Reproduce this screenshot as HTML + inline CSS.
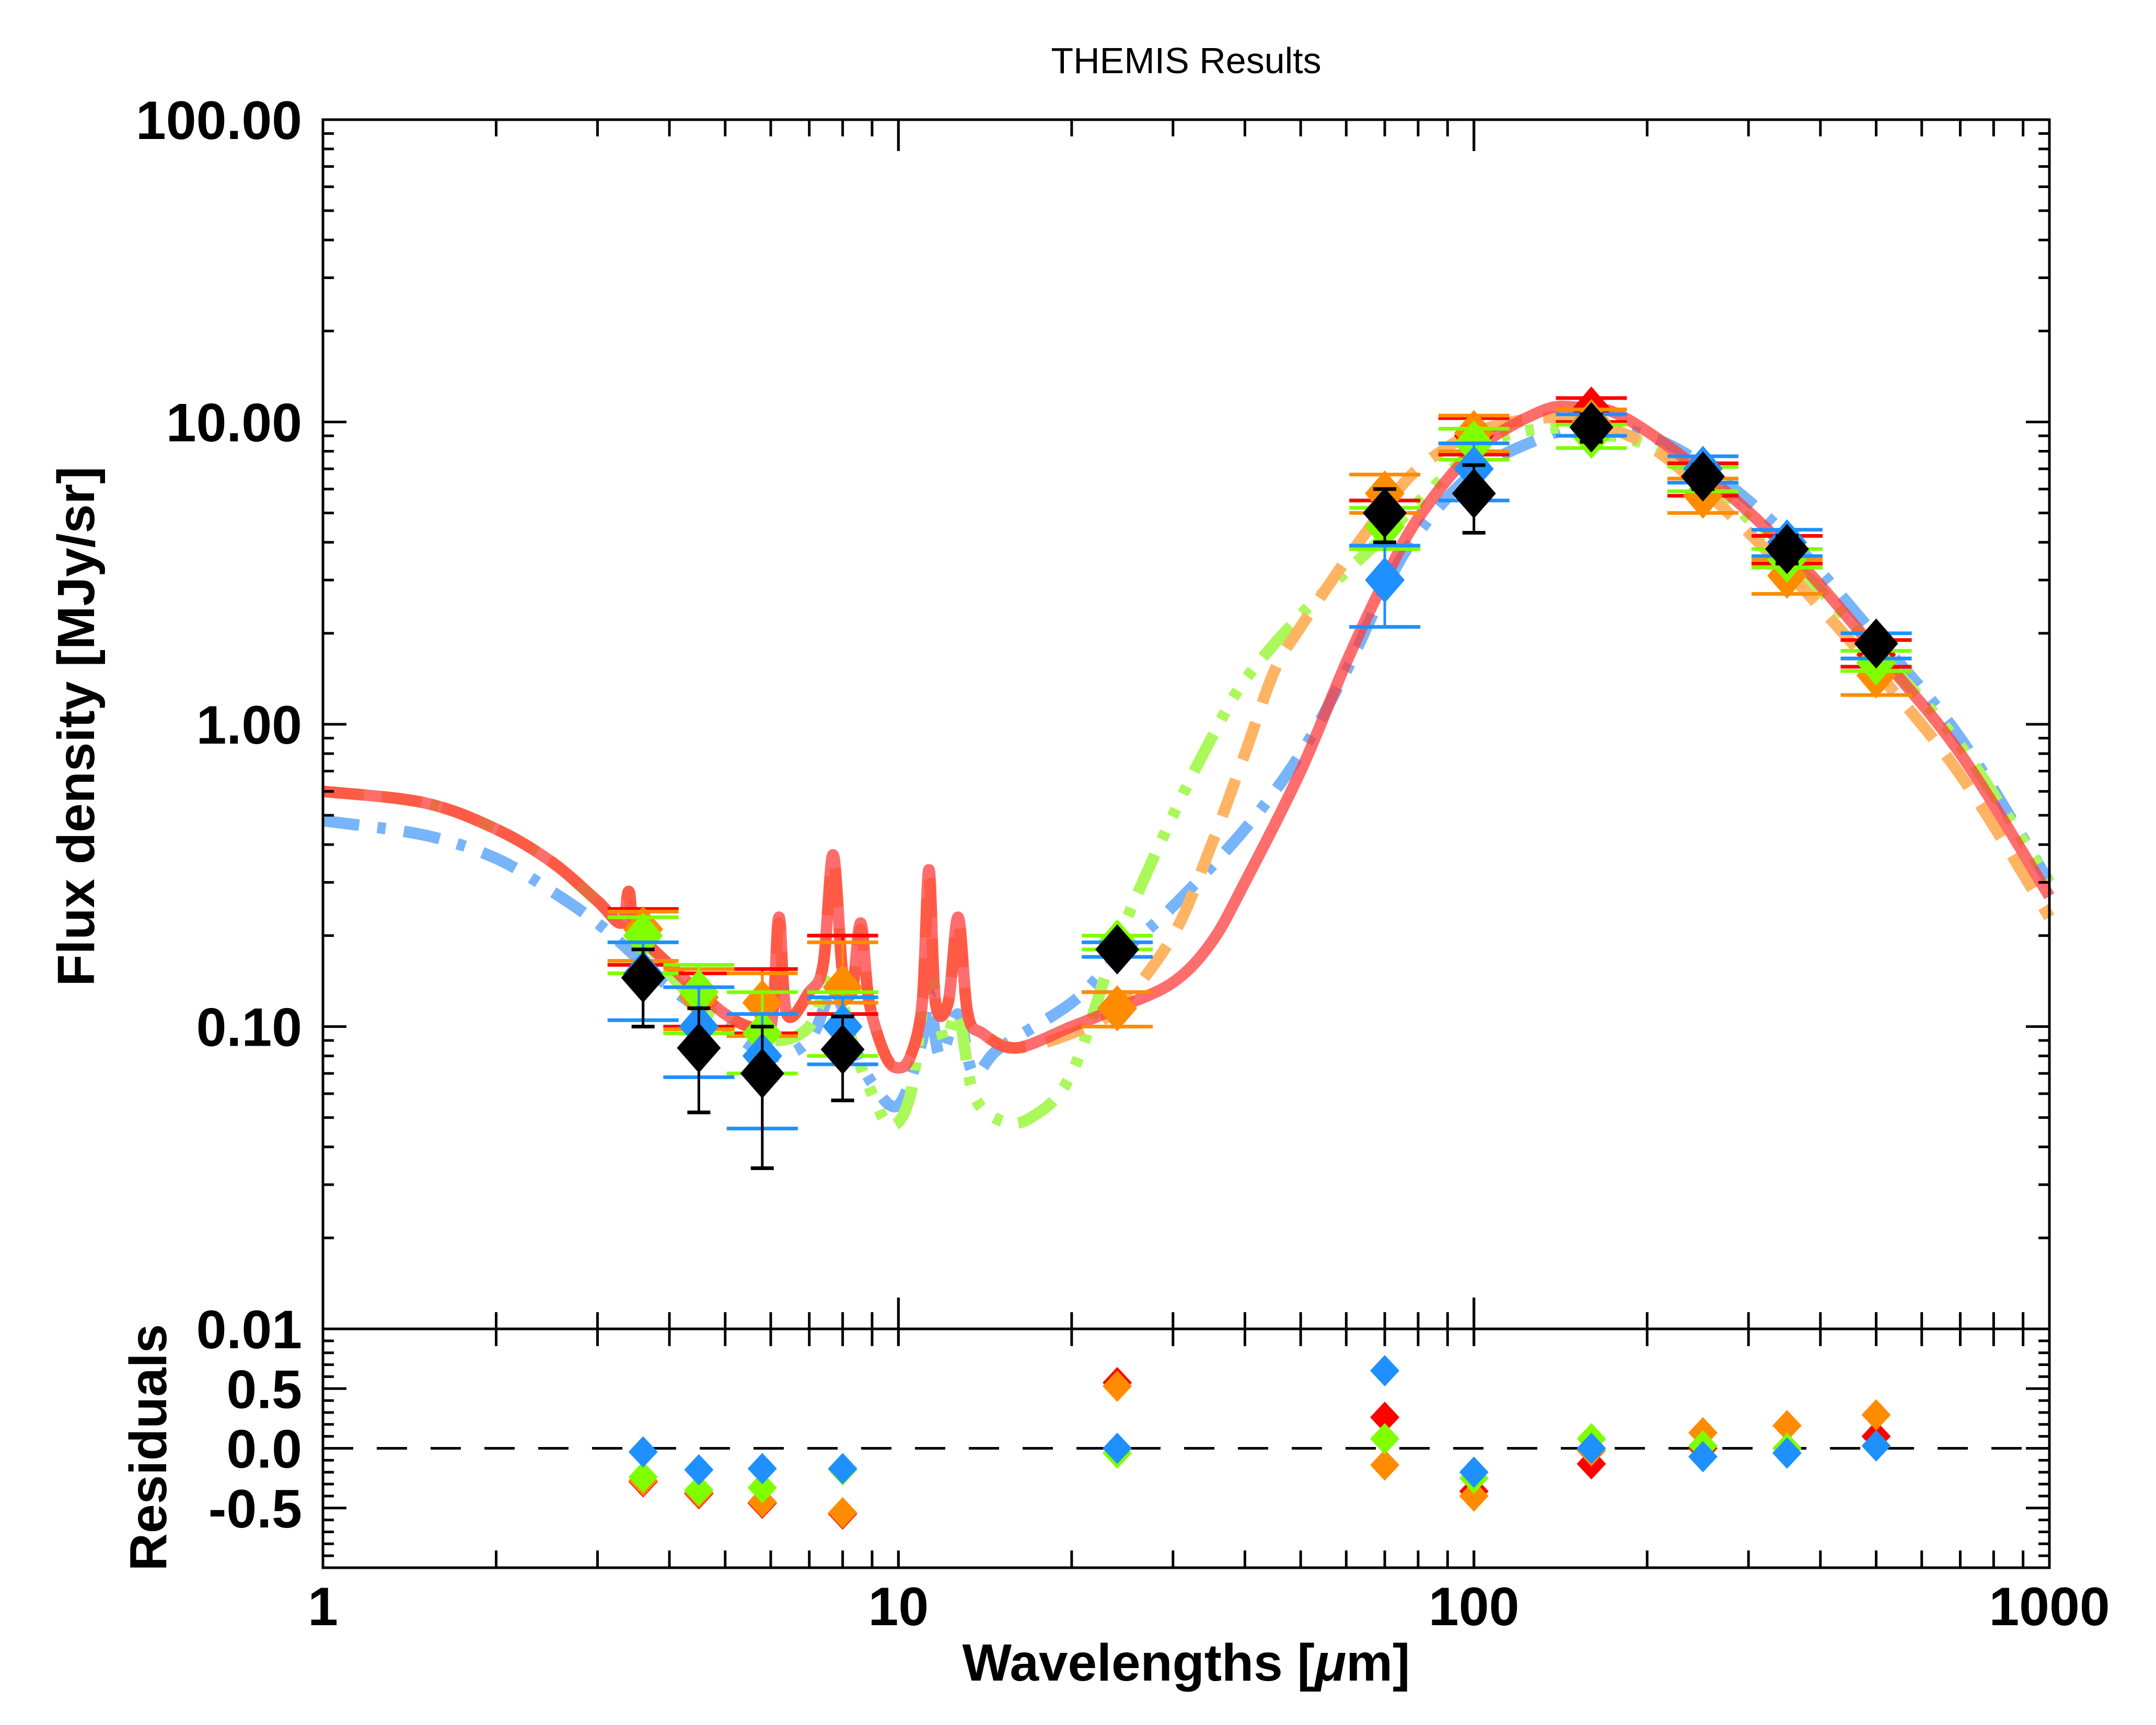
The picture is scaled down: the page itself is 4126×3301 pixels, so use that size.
<!DOCTYPE html>
<html><head><meta charset="utf-8"><style>
html,body{margin:0;padding:0;background:#fff}
svg{display:block}
text{font-family:"Liberation Sans",sans-serif}
</style></head><body>
<svg id="chart" width="4126" height="3301" viewBox="0 0 4126 3301" xmlns="http://www.w3.org/2000/svg">
<rect x="0" y="0" width="4126" height="3301" fill="#fff"/>
<text x="2270" y="140" font-size="70" text-anchor="middle">THEMIS Results</text>
<text transform="translate(180,1390) rotate(-90)" font-size="100" font-weight="bold" text-anchor="middle">Flux density [MJy/sr]</text>
<text transform="translate(318,2770) rotate(-90)" font-size="100" font-weight="bold" text-anchor="middle">Residuals</text>
<text x="2270" y="3216" font-size="100" font-weight="bold" text-anchor="middle">Wavelengths [<tspan font-style="italic">μ</tspan>m]</text>
<g id="curves"></g><g id="marks"></g><g id="axes"></g>
</svg>
<script>
const wavelengths=[3.6,4.5,5.8,8.0,24,70,100,160,250,350,500];
const redVals=[0.21,0.125,0.12,0.135,0.115,4.5,9.0,11.0,6.5,3.8,1.7];
const redLo=[0.16,0.10,0.095,0.11,0.10,3.8,7.8,10.0,5.7,3.4,1.55];
const redHi=[0.245,0.15,0.155,0.20,0.13,5.5,10.3,12.0,7.3,4.2,1.9];
const orangeVals=[0.21,0.125,0.12,0.135,0.115,5.8,9.2,10.0,5.7,3.1,1.45];
const orangeLo=[0.165,0.098,0.093,0.12,0.10,5.0,8.0,9.0,5.0,2.7,1.25];
const orangeHi=[0.24,0.155,0.15,0.19,0.13,6.7,10.5,11.0,6.5,3.5,1.65];
const greenVals=[0.2,0.13,0.095,0.10,0.19,4.5,8.5,9.0,6.5,3.5,1.6];
const greenLo=[0.15,0.095,0.07,0.08,0.18,3.8,7.5,8.2,5.9,3.3,1.5];
const greenHi=[0.23,0.16,0.13,0.13,0.20,5.2,9.5,9.8,7.1,3.8,1.75];
const blueVals=[0.15,0.10,0.08,0.10,0.18,3.0,7.0,9.8,7.0,4.0,1.85];
const blueLo=[0.105,0.068,0.046,0.075,0.17,2.1,5.5,9.0,6.3,3.6,1.65];
const blueHi=[0.19,0.135,0.11,0.125,0.19,3.9,8.5,10.6,7.7,4.4,2.0];
const obsVals=[0.145,0.085,0.07,0.084,0.18,5.0,5.8,9.6,6.6,3.8,1.85];
const obsLo=[0.10,0.052,0.034,0.057,0.17,4.0,4.3,8.6,6.0,3.4,1.7];
const obsHi=[0.18,0.115,0.10,0.108,0.19,6.0,7.2,10.6,7.2,4.2,2.0];
const redRes=[-0.28,-0.38,-0.46,-0.55,0.55,0.26,-0.36,-0.13,0.0,0.0,0.10];
const orangeRes=[-0.27,-0.37,-0.45,-0.54,0.52,-0.14,-0.40,-0.02,0.13,0.19,0.28];
const greenRes=[-0.24,-0.35,-0.33,-0.18,-0.04,0.08,-0.25,0.08,0.02,0.0,0.02];
const blueRes=[-0.03,-0.18,-0.17,-0.17,0.0,0.65,-0.20,0.0,-0.07,-0.04,0.02];
const redCurveX=[1,1.5,2,2.5,3,3.3,3.4,3.5,4,4.5,5,5.5,6.0,6.2,6.4,7.0,7.4,7.7,8.0,8.3,8.6,8.9,9.5,10,10.5,11.0,11.3,11.6,12.2,12.7,13.2,14,16,20,24,30,35,40,50,60,70,80,100,130,150,180,250,350,500,700,1000];
const redCurveY=[0.60,0.55,0.45,0.35,0.26,0.22,0.28,0.21,0.16,0.13,0.11,0.10,0.10,0.23,0.11,0.13,0.16,0.37,0.15,0.13,0.22,0.12,0.08,0.073,0.08,0.12,0.33,0.12,0.12,0.23,0.11,0.095,0.085,0.10,0.115,0.14,0.19,0.30,0.7,1.6,3.0,4.8,8.0,10.8,11.2,10.5,6.8,3.8,1.75,0.8,0.27];
const orangeCurveX=[1,1.5,2,2.5,3,3.3,3.4,3.5,4,4.5,5,5.5,6.0,6.2,6.4,7.0,7.4,7.7,8.0,8.3,8.6,8.9,9.5,10,10.5,11.0,11.3,11.6,12.2,12.7,13.2,14,16,20,24,30,35,40,45,50,60,70,80,100,130,160,200,250,350,500,700,1000];
const orangeCurveY=[0.60,0.55,0.45,0.35,0.26,0.22,0.28,0.21,0.16,0.13,0.11,0.10,0.10,0.22,0.11,0.13,0.16,0.35,0.15,0.13,0.21,0.12,0.08,0.075,0.08,0.12,0.31,0.12,0.12,0.22,0.11,0.095,0.085,0.095,0.115,0.20,0.40,0.8,1.5,2.1,3.5,5.2,7.0,9.2,10.3,9.9,8.4,6.0,3.2,1.5,0.68,0.23];
const greenCurveX=[1,1.5,2,2.5,3,3.5,4,4.5,5,6,7,7.7,8.3,9,9.7,10.5,11.3,12,12.7,13.5,15,17,20,24,30,35,40,50,60,70,100,130,160,200,250,350,500,700,1000];
const greenCurveY=[0.60,0.55,0.45,0.35,0.26,0.21,0.15,0.12,0.105,0.09,0.10,0.15,0.09,0.06,0.047,0.06,0.15,0.09,0.11,0.06,0.049,0.05,0.07,0.19,0.5,0.9,1.4,2.3,3.2,4.2,8.0,9.5,9.2,8.4,6.5,3.6,1.75,0.85,0.3];
const blueCurveX=[1,1.5,2,2.5,3,3.5,4,5,6,7,7.7,8.3,9,10,11,11.3,11.8,12.7,13.5,15,20,24,30,40,50,60,70,80,100,130,160,200,250,350,500,700,1000];
const blueCurveY=[0.48,0.43,0.36,0.28,0.22,0.17,0.135,0.10,0.08,0.09,0.13,0.09,0.065,0.055,0.09,0.13,0.08,0.11,0.07,0.085,0.12,0.17,0.25,0.45,0.8,1.5,2.8,4.3,6.8,8.8,9.8,9.0,7.2,4.2,1.95,0.9,0.3];
const yTickVals=[0.01,0.1,1,10,100];
const yTickLabels=["0.01","0.10","1.00","10.00","100.00"];
const resTickVals=[0.5,0,-0.5];
const resTickLabels=["0.5","0.0","-0.5"];
const xTickVals=[1,10,100,1000];
const xTickLabels=["1","10","100","1000"];

const L=618,R=3922,T=229,B=2543,RB=3000;
const X=l=>L+(R-L)/3*Math.log10(l);
const Y=f=>T+(B-T)/4*(2-Math.log10(f));
const RY=r=>(B+RB)/2-(RB-B)/2*r;
const NS="http://www.w3.org/2000/svg";
function mk(tag,attrs,parent){const e=document.createElementNS(NS,tag);for(const k in attrs)e.setAttribute(k,attrs[k]);parent.appendChild(e);return e;}
const curves=document.getElementById('curves'),marks=document.getElementById('marks'),axes=document.getElementById('axes');

function pathFrom(xs,ys){
  const p=xs.map((x,i)=>[X(x),Y(ys[i])]);
  let d=`M${p[0][0]},${p[0][1]}`;
  for(let i=0;i<p.length-1;i++){
    const p0=p[Math.max(0,i-1)],p1=p[i],p2=p[i+1],p3=p[Math.min(p.length-1,i+2)];
    const c1=[p1[0]+(p2[0]-p0[0])/6,p1[1]+(p2[1]-p0[1])/6];
    const c2=[p2[0]-(p3[0]-p1[0])/6,p2[1]-(p3[1]-p1[1])/6];
    d+=` C${c1[0]},${c1[1]} ${c2[0]},${c2[1]} ${p2[0]},${p2[1]}`;
  }
  return d;
}
let c;
c=mk('path',{d:pathFrom(blueCurveX,blueCurveY),fill:'none',stroke:'rgb(120,180,250)','stroke-width':22,'stroke-dasharray':'70 35 16 35'},curves);

c=mk('path',{d:pathFrom(greenCurveX,greenCurveY),fill:'none',stroke:'rgb(170,248,90)','stroke-width':22,'stroke-dasharray':'80 32 16 32 16 32 16 32'},curves);

c=mk('path',{d:pathFrom(orangeCurveX,orangeCurveY),fill:'none',stroke:'rgb(255,180,100)','stroke-width':22,'stroke-dasharray':'75 40'},curves);

c=mk('path',{d:pathFrom(redCurveX,redCurveY),fill:'none',stroke:'rgb(255,60,60)','stroke-opacity':0.75,'stroke-width':22},curves);


function diamond(cx,cy,hw,hh,col,parent){
  return mk('polygon',{points:`${cx},${cy-hh} ${cx+hw},${cy} ${cx},${cy+hh} ${cx-hw},${cy}`,fill:col},parent);
}
const sets=[['red','rgb(255,0,0)',redVals,redLo,redHi],['orange','rgb(255,140,0)',orangeVals,orangeLo,orangeHi],['green','rgb(127,255,0)',greenVals,greenLo,greenHi],['blue','rgb(30,144,255)',blueVals,blueLo,blueHi]];
sets.forEach(s=>{
  wavelengths.forEach((w,i)=>{
    const x=X(w);
    const g=mk('g',{},marks);
    
    
    mk('line',{x1:x,x2:x,y1:Y(s[3][i]),y2:Y(s[4][i]),stroke:s[1],'stroke-width':5},g);
    mk('line',{x1:x-68,x2:x+68,y1:Y(s[3][i]),y2:Y(s[3][i]),stroke:s[1],'stroke-width':7},g);
    mk('line',{x1:x-68,x2:x+68,y1:Y(s[4][i]),y2:Y(s[4][i]),stroke:s[1],'stroke-width':7},g);
    diamond(x,Y(s[2][i]),38,44,s[1],g);
  });
});
wavelengths.forEach((w,i)=>{
  const x=X(w);
  const g=mk('g',{},marks);
  
  
  mk('line',{x1:x,x2:x,y1:Y(obsLo[i]),y2:Y(obsHi[i]),stroke:'#000','stroke-width':5},g);
  mk('line',{x1:x-22,x2:x+22,y1:Y(obsLo[i]),y2:Y(obsLo[i]),stroke:'#000','stroke-width':7},g);
  mk('line',{x1:x-22,x2:x+22,y1:Y(obsHi[i]),y2:Y(obsHi[i]),stroke:'#000','stroke-width':7},g);
  diamond(x,Y(obsVals[i]),42,48,'#000',g);
});
let zl=mk('line',{x1:L,x2:R,y1:RY(0),y2:RY(0),stroke:'#000','stroke-width':5,'stroke-dasharray':'58 45'},marks);

[['red','rgb(255,0,0)',redRes],['orange','rgb(255,140,0)',orangeRes],['green','rgb(127,255,0)',greenRes],['blue','rgb(30,144,255)',blueRes]].forEach(s=>{
  wavelengths.forEach((w,i)=>{
    const d=diamond(X(w),RY(s[2][i]),28,30,s[1],marks);
    
    
  });
});
let fr=mk('rect',{x:L,y:T,width:R-L,height:B-T,fill:'none',stroke:'#000','stroke-width':5},axes);

fr=mk('rect',{x:L,y:B,width:R-L,height:RB-B,fill:'none',stroke:'#000','stroke-width':5},axes);

function tk(x1,y1,x2,y2){mk('line',{x1,y1,x2,y2,stroke:'#000','stroke-width':5},axes);}
for(let dec=1;dec<=100;dec*=10){
  for(let m=1;m<=10;m++){
    const v=dec*m;const x=X(v);const major=(m===1||m===10);
    if(v===1||v===1000) continue;
    tk(x,T,x,T+(major?60:32));
    tk(x,B,x,B-(major?60:32));
    tk(x,B,x,B+33);
    tk(x,RB,x,RB-33);
  }
}
xTickVals.forEach((v,i)=>{
  const t=mk('text',{x:X(v),y:3110,'font-size':104,'font-weight':'bold','text-anchor':'middle'},axes);
  t.textContent=xTickLabels[i];
  
});
for(let e=-2;e<2;e++){
  for(let m=1;m<=9;m++){
    const v=Math.pow(10,e)*m;const y=Y(v);const major=m===1;
    if(v===0.01) continue;
    tk(L,y,L+(major?45:21),y);
    tk(R,y,R-(major?45:21),y);
  }
}
yTickVals.forEach((v,i)=>{
  const t=mk('text',{x:578,y:Y(v)+37,'font-size':104,'font-weight':'bold','text-anchor':'end'},axes);
  t.textContent=yTickLabels[i];
  
});
for(let k=-9;k<=9;k++){
  const r=k/10;const y=RY(r);const major=(k%5===0);
  tk(L,y,L+(major?45:21),y);
  tk(R,y,R-(major?45:21),y);
}
resTickVals.forEach((v,i)=>{
  const t=mk('text',{x:578,y:RY(v)+37,'font-size':104,'font-weight':'bold','text-anchor':'end'},axes);
  t.textContent=resTickLabels[i];
  
});
</script>
</body></html>
